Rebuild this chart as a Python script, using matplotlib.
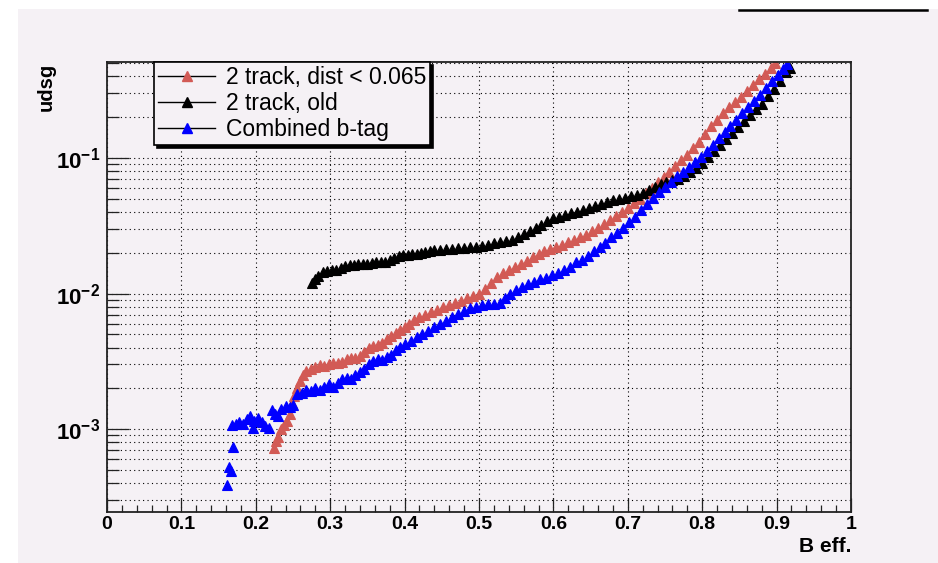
import numpy as np
import matplotlib
matplotlib.use("Agg")
import matplotlib.pyplot as plt
from matplotlib.lines import Line2D
from matplotlib.patches import Rectangle
from matplotlib.ticker import MultipleLocator, LogLocator, NullFormatter, FixedLocator, FixedFormatter

plt.rcParams['font.family'] = ['Liberation Sans', 'DejaVu Sans']
plt.rcParams['mathtext.fontset'] = 'custom'
plt.rcParams['mathtext.rm'] = 'Liberation Sans:bold'
plt.rcParams['mathtext.bf'] = 'Liberation Sans:bold'

# ---- data ----
red_x = [0.224, 0.227, 0.230, 0.234, 0.238, 0.242, 0.246, 0.249, 0.252, 0.255,
         0.259, 0.263, 0.268, 0.274, 0.280, 0.286, 0.292, 0.298, 0.304, 0.310,
         0.316, 0.322, 0.328, 0.334, 0.340, 0.346, 0.352, 0.358, 0.364, 0.370,
         0.376, 0.382, 0.388, 0.394, 0.400, 0.406, 0.412, 0.420, 0.428, 0.436,
         0.444, 0.452, 0.460, 0.468, 0.476, 0.484, 0.492, 0.500, 0.508, 0.516,
         0.524, 0.532, 0.540, 0.548, 0.556, 0.564, 0.572, 0.580, 0.588, 0.596,
         0.604, 0.612, 0.620, 0.628, 0.636, 0.644, 0.652, 0.660, 0.668, 0.676,
         0.684, 0.692, 0.700, 0.708, 0.716, 0.724, 0.732, 0.740, 0.748, 0.756,
         0.764, 0.772, 0.780, 0.788, 0.796, 0.804, 0.812, 0.820, 0.828, 0.836,
         0.844, 0.852, 0.860, 0.868, 0.876, 0.884, 0.892, 0.898]
red_y = [7.3e-4, 8.2e-4, 8.8e-4, 1.0e-3, 1.07e-3, 1.15e-3, 1.3e-3, 1.55e-3, 1.75e-3, 2.0e-3,
         2.25e-3, 2.5e-3, 2.7e-3, 2.8e-3, 2.85e-3, 2.95e-3, 2.9e-3, 3.0e-3, 3.05e-3, 3.1e-3,
         3.15e-3, 3.3e-3, 3.35e-3, 3.35e-3, 3.45e-3, 3.7e-3, 3.95e-3, 4.1e-3, 4.2e-3, 4.35e-3,
         4.6e-3, 4.85e-3, 5.1e-3, 5.4e-3, 5.7e-3, 6.0e-3, 6.35e-3, 6.7e-3, 6.95e-3, 7.3e-3,
         7.6e-3, 7.9e-3, 8.2e-3, 8.5e-3, 8.8e-3, 9.3e-3, 9.6e-3, 9.9e-3, 1.08e-2, 1.2e-2,
         1.33e-2, 1.42e-2, 1.5e-2, 1.56e-2, 1.65e-2, 1.75e-2, 1.85e-2, 1.95e-2, 2.05e-2, 2.13e-2,
         2.2e-2, 2.27e-2, 2.38e-2, 2.5e-2, 2.6e-2, 2.7e-2, 2.88e-2, 3.05e-2, 3.25e-2, 3.5e-2,
         3.75e-2, 4.0e-2, 4.3e-2, 4.65e-2, 5.0e-2, 5.5e-2, 6.0e-2, 6.6e-2, 7.2e-2, 7.9e-2,
         8.7e-2, 9.6e-2, 0.106, 0.118, 0.132, 0.150, 0.172, 0.192, 0.214, 0.236,
         0.258, 0.282, 0.310, 0.345, 0.380, 0.418, 0.458, 0.500]

old_x = [0.276, 0.280, 0.284, 0.290, 0.296, 0.302, 0.308, 0.314, 0.320, 0.326,
         0.332, 0.338, 0.344, 0.350, 0.356, 0.362, 0.368, 0.374, 0.380, 0.386,
         0.392, 0.398, 0.404, 0.410, 0.416, 0.422, 0.428, 0.434, 0.440, 0.448,
         0.456, 0.464, 0.472, 0.480, 0.488, 0.496, 0.504, 0.512, 0.520, 0.528,
         0.536, 0.544, 0.552, 0.560, 0.568, 0.576, 0.584, 0.592, 0.600, 0.608,
         0.616, 0.624, 0.632, 0.640, 0.648, 0.656, 0.664, 0.672, 0.680, 0.688,
         0.696, 0.704, 0.712, 0.720, 0.728, 0.736, 0.744, 0.752, 0.760, 0.768,
         0.776, 0.784, 0.792, 0.800, 0.808, 0.816, 0.824, 0.832, 0.840, 0.848,
         0.856, 0.864, 0.872, 0.880, 0.888, 0.896, 0.904, 0.912, 0.918]
old_y = [1.19e-2, 1.28e-2, 1.35e-2, 1.44e-2, 1.47e-2, 1.48e-2, 1.5e-2, 1.55e-2, 1.6e-2, 1.62e-2,
         1.63e-2, 1.65e-2, 1.66e-2, 1.66e-2, 1.68e-2, 1.7e-2, 1.71e-2, 1.72e-2, 1.76e-2, 1.83e-2,
         1.88e-2, 1.92e-2, 1.94e-2, 1.95e-2, 1.96e-2, 1.98e-2, 2.02e-2, 2.05e-2, 2.08e-2, 2.1e-2,
         2.12e-2, 2.14e-2, 2.16e-2, 2.18e-2, 2.2e-2, 2.21e-2, 2.23e-2, 2.28e-2, 2.35e-2, 2.4e-2,
         2.45e-2, 2.5e-2, 2.6e-2, 2.75e-2, 2.9e-2, 3.05e-2, 3.2e-2, 3.4e-2, 3.6e-2, 3.7e-2,
         3.8e-2, 3.9e-2, 4.0e-2, 4.15e-2, 4.3e-2, 4.45e-2, 4.6e-2, 4.75e-2, 4.9e-2, 5.0e-2,
         5.1e-2, 5.2e-2, 5.3e-2, 5.5e-2, 5.8e-2, 6.1e-2, 6.4e-2, 6.6e-2, 6.85e-2, 7.0e-2,
         7.4e-2, 7.9e-2, 8.5e-2, 9.2e-2, 0.101, 0.112, 0.125, 0.138, 0.152, 0.168,
         0.186, 0.206, 0.228, 0.252, 0.285, 0.32, 0.37, 0.43, 0.46]

comb_x = [0.161, 0.164, 0.166, 0.170, 0.168, 0.173, 0.178, 0.183, 0.188, 0.192,
          0.196, 0.198, 0.203, 0.208, 0.213, 0.218, 0.222, 0.226, 0.230, 0.234,
          0.240, 0.246, 0.250, 0.256, 0.262, 0.268, 0.274, 0.280, 0.286, 0.292,
          0.298, 0.304, 0.310, 0.316, 0.322, 0.328, 0.334, 0.340, 0.346, 0.352,
          0.358, 0.364, 0.370, 0.376, 0.382, 0.388, 0.394, 0.400, 0.408, 0.416,
          0.424, 0.432, 0.440, 0.448, 0.456, 0.464, 0.472, 0.480, 0.488, 0.496,
          0.504, 0.512, 0.520, 0.528, 0.535, 0.542, 0.550, 0.558, 0.566, 0.574,
          0.582, 0.590, 0.598, 0.606, 0.614, 0.622, 0.630, 0.638, 0.646, 0.654,
          0.662, 0.670, 0.678, 0.686, 0.694, 0.702, 0.710, 0.718, 0.726, 0.734,
          0.742, 0.750, 0.758, 0.766, 0.774, 0.782, 0.790, 0.798, 0.806, 0.814,
          0.822, 0.830, 0.838, 0.846, 0.854, 0.862, 0.870, 0.878, 0.886, 0.894,
          0.902, 0.908, 0.914]
comb_y = [3.9e-4, 5.3e-4, 4.9e-4, 7.4e-4, 1.08e-3, 1.1e-3, 1.12e-3, 1.1e-3, 1.18e-3, 1.26e-3,
          1.02e-3, 1.14e-3, 1.2e-3, 1.12e-3, 1.05e-3, 1.02e-3, 1.38e-3, 1.3e-3, 1.25e-3, 1.42e-3,
          1.48e-3, 1.45e-3, 1.52e-3, 1.82e-3, 1.85e-3, 1.95e-3, 1.92e-3, 2.0e-3, 1.95e-3, 2.05e-3,
          2.15e-3, 2.05e-3, 2.2e-3, 2.35e-3, 2.4e-3, 2.35e-3, 2.5e-3, 2.65e-3, 2.8e-3, 3.0e-3,
          3.2e-3, 3.3e-3, 3.25e-3, 3.4e-3, 3.55e-3, 3.85e-3, 4.05e-3, 4.25e-3, 4.45e-3, 4.75e-3,
          5.0e-3, 5.3e-3, 5.65e-3, 5.95e-3, 6.3e-3, 6.7e-3, 7.1e-3, 7.5e-3, 7.8e-3, 8.0e-3,
          8.3e-3, 8.4e-3, 8.4e-3, 8.5e-3, 9.3e-3, 1.0e-2, 1.07e-2, 1.12e-2, 1.17e-2, 1.22e-2,
          1.27e-2, 1.31e-2, 1.36e-2, 1.42e-2, 1.5e-2, 1.58e-2, 1.7e-2, 1.78e-2, 1.88e-2, 2.05e-2,
          2.2e-2, 2.35e-2, 2.6e-2, 2.8e-2, 3.05e-2, 3.35e-2, 3.7e-2, 4.1e-2, 4.55e-2, 5.1e-2,
          5.6e-2, 6.1e-2, 6.7e-2, 7.3e-2, 7.9e-2, 8.6e-2, 9.3e-2, 0.102, 0.113, 0.125,
          0.140, 0.155, 0.172, 0.192, 0.213, 0.237, 0.262, 0.29, 0.328, 0.37,
          0.41, 0.45, 0.49]

labels = ['2 track, dist < 0.065', '2 track, old', 'Combined b-tag']
colors = ['#d25a55', 'black', 'blue']
x_ticks = [0, 0.1, 0.2, 0.3, 0.4, 0.5, 0.6, 0.7, 0.8, 0.9, 1]
x_tick_labels = ['0', '0.1', '0.2', '0.3', '0.4', '0.5', '0.6', '0.7', '0.8', '0.9', '1']
y_ticks = [1e-3, 1e-2, 1e-1]
y_tick_labels = [r'$\mathbf{10^{-3}}$', r'$\mathbf{10^{-2}}$', r'$\mathbf{10^{-1}}$']

bg = '#f5f1f5'
W, H = 938, 563

fig = plt.figure(figsize=(W / 100, H / 100), dpi=100, facecolor='white')
fig.patches.append(Rectangle((18 / W, 0), 1, 1 - 9 / H, transform=fig.transFigure,
                             facecolor=bg, edgecolor='none', zorder=-10))
# piece of title box at the top
fig.add_artist(Line2D([739 / W, 927 / W], [1 - 10 / H, 1 - 10 / H], color='black', lw=1.8))

ax = fig.add_axes([107 / W, 1 - 512 / H, 744 / W, 450 / H])
ax.set_facecolor(bg)

series = [(red_x, red_y), (old_x, old_y), (comb_x, comb_y)]
for (xs, ys), c in zip(series, colors):
    ax.plot(xs, ys, linestyle='none', marker='^', markersize=7.5,
            markerfacecolor=c, markeredgecolor=c, markeredgewidth=0.8)

ax.set_yscale('log')
ax.set_xlim(0, 1)
ax.set_ylim(2.45e-4, 0.51)

ax.xaxis.set_major_locator(FixedLocator(x_ticks))
ax.xaxis.set_major_formatter(FixedFormatter(x_tick_labels))
ax.xaxis.set_minor_locator(MultipleLocator(0.02))
ax.yaxis.set_major_locator(FixedLocator(y_ticks))
ax.yaxis.set_major_formatter(FixedFormatter(y_tick_labels))
ax.yaxis.set_minor_locator(LogLocator(base=10, subs=np.arange(2, 10)))
ax.yaxis.set_minor_formatter(NullFormatter())

ax.tick_params(axis='both', which='both', direction='in', width=0.9, color='#222222')
ax.tick_params(axis='x', which='major', length=10, pad=3, labelsize=14)
ax.tick_params(axis='x', which='minor', length=5)
ax.tick_params(axis='y', which='major', length=16, pad=5, labelsize=16)
ax.tick_params(axis='y', which='minor', length=8.5)
for lbl in ax.get_xticklabels():
    lbl.set_fontweight('bold')

for s in ax.spines.values():
    s.set_linewidth(1.3)
    s.set_color('#222222')

ax.grid(True, axis='x', which='major', color='black', ls=(0, (1, 3)), lw=0.8)
ax.grid(True, axis='y', which='both', color='black', ls=(0, (1, 3)), lw=0.8)
ax.set_axisbelow(True)

fig.text(851 / W, 1 - 547 / H, 'B eff.', ha='right', va='center', fontsize=15, fontweight='bold')
fig.text(46 / W, 1 - 63 / H, 'udsg', ha='center', va='top', rotation=90, fontsize=14.5, fontweight='bold')

handles = [Line2D([], [], color='black', lw=1, marker='^', markersize=7.5,
                  markerfacecolor=c, markeredgecolor=c) for c in colors]
leg = ax.legend(handles, labels, loc='upper left', bbox_to_anchor=(47 / 744, 1.0),
                borderaxespad=0, fontsize=16.5, handlelength=2.5, handletextpad=0.45,
                labelspacing=0.12, borderpad=0.18, fancybox=False, framealpha=1,
                shadow={'color': 'black', 'alpha': 1})
leg.get_frame().set_facecolor(bg)
leg.get_frame().set_edgecolor('black')
leg.get_frame().set_linewidth(1.2)

fig.savefig('out.png', dpi=100, facecolor='white')
